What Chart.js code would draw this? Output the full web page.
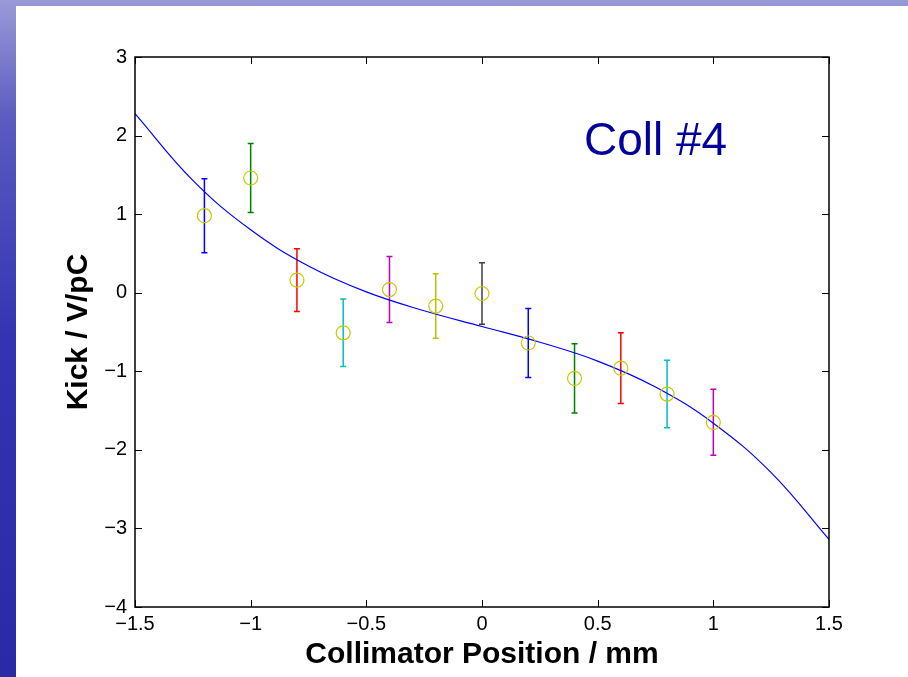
<!DOCTYPE html>
<html lang="en">
<head>
    <meta charset="UTF-8">
    <title>Coll #4</title>
    <script src="https://cdn.jsdelivr.net/npm/chart.js"></script>
    <style>
        html, body {
            margin: 0;
            padding: 0;
            width: 908px;
            height: 677px;
            overflow: hidden;
        }

        body {
            /* blue slide background that shows on the left and top edges */
            background: linear-gradient(180deg, #9a9ad8 0%, #5a5ac0 18%, #3434b2 50%, #2a2aa6 100%);
            font-family: "Liberation Sans", Arial, sans-serif;
        }

        #chartContainer {
            position: absolute;
            left: 16px;
            top: 6px;
            width: 892px;
            height: 671px;
            background: #ffffff;
        }
    </style>
</head>
<body>
    <div id="chartContainer">
        <canvas id="chart"></canvas>
    </div>

    <script>
        // measured kick vs collimator position
        const positions = [-1.2, -1.0, -0.8, -0.6, -0.4, -0.2, 0.0, 0.2, 0.4, 0.6, 0.8, 1.0];
        const kicks = [0.98, 1.46, 0.16, -0.51, 0.04, -0.17, -0.01, -0.64, -1.09, -0.96, -1.29, -1.65];
        const errors = [0.47, 0.44, 0.40, 0.43, 0.42, 0.41, 0.39, 0.44, 0.44, 0.45, 0.43, 0.42];
        const barColors = ['#0000ff', '#008000', '#ff0000', '#00bfbf', '#bf00bf', '#bfbf00',
                           '#404040', '#0000ff', '#008000', '#ff0000', '#00bfbf', '#bf00bf'];

        // fitted curve
        const fitX = [-1.5, -1.25, -1.0, -0.75, -0.5, -0.25, 0.0, 0.25, 0.5, 0.75, 1.0, 1.25, 1.5];
        const fitY = [2.28, 1.43, 0.80, 0.34, 0.01, -0.23, -0.43, -0.63, -0.87, -1.20, -1.66, -2.29, -3.14];

        const xTicks = [-1.5, -1.0, -0.5, 0, 0.5, 1.0, 1.5];
        const yTicks = [-4, -3, -2, -1, 0, 1, 2, 3];

        const FONT = '"Liberation Sans", Arial, sans-serif';

        // matlab style minus sign
        function fmt(v) {
            const s = String(Math.round(v * 10) / 10);
            return s.replace('-', '\u2212');
        }

        // error bars, drawn under the markers
        const errorBarPlugin = {
            id: 'errorBars',
            beforeDatasetsDraw(chart) {
                const ctx = chart.ctx;
                const xs = chart.scales.x;
                const ys = chart.scales.y;
                ctx.save();
                ctx.lineWidth = 1.5;
                positions.forEach((p, i) => {
                    const px = xs.getPixelForValue(p);
                    const top = ys.getPixelForValue(kicks[i] + errors[i]);
                    const bot = ys.getPixelForValue(kicks[i] - errors[i]);
                    ctx.strokeStyle = barColors[i];
                    ctx.beginPath();
                    ctx.moveTo(px, top);
                    ctx.lineTo(px, bot);
                    ctx.moveTo(px - 3, top);
                    ctx.lineTo(px + 3, top);
                    ctx.moveTo(px - 3, bot);
                    ctx.lineTo(px + 3, bot);
                    ctx.stroke();
                });
                ctx.restore();
            }
        };

        // box round the axes with inward ticks, plus the "Coll #4" note
        const boxPlugin = {
            id: 'box',
            afterDraw(chart) {
                const ctx = chart.ctx;
                const a = chart.chartArea;
                const xs = chart.scales.x;
                const ys = chart.scales.y;
                const tl = 7;
                ctx.save();
                ctx.strokeStyle = '#000';
                ctx.lineWidth = 1.5;
                ctx.strokeRect(a.left, a.top, a.right - a.left, a.bottom - a.top);
                ctx.lineWidth = 1;
                ctx.beginPath();
                xs.ticks.forEach(t => {
                    const px = Math.round(xs.getPixelForValue(t.value)) + 0.5;
                    ctx.moveTo(px, a.bottom);
                    ctx.lineTo(px, a.bottom - tl);
                    ctx.moveTo(px, a.top);
                    ctx.lineTo(px, a.top + tl);
                });
                ys.ticks.forEach(t => {
                    const py = Math.round(ys.getPixelForValue(t.value)) + 0.5;
                    ctx.moveTo(a.left, py);
                    ctx.lineTo(a.left + tl, py);
                    ctx.moveTo(a.right, py);
                    ctx.lineTo(a.right - tl, py);
                });
                ctx.stroke();

                ctx.fillStyle = '#00009c';
                ctx.font = '46px ' + FONT;
                ctx.textAlign = 'center';
                ctx.textBaseline = 'middle';
                ctx.fillText('Coll #4', xs.getPixelForValue(0.75), ys.getPixelForValue(1.92));
                ctx.restore();
            }
        };

        const ctx = document.getElementById('chart').getContext('2d');
        const chart = new Chart(ctx, {
            type: 'scatter',
            data: {
                datasets: [
                    {
                        label: 'Messung',
                        data: positions.map((p, i) => ({ x: p, y: kicks[i] })),
                        pointStyle: 'circle',
                        pointRadius: 7,
                        pointBorderWidth: 1.2,
                        pointBorderColor: '#c8c800',
                        pointBackgroundColor: 'rgba(0,0,0,0)',
                        showLine: false
                    },
                    {
                        label: 'Fit',
                        data: fitX.map((x, i) => ({ x: x, y: fitY[i] })),
                        showLine: true,
                        borderColor: '#0000ff',
                        borderWidth: 1.2,
                        pointRadius: 0,
                        tension: 0.4
                    }
                ]
            },
            options: {
                responsive: true,
                maintainAspectRatio: false,
                animation: false,
                layout: {
                    padding: { left: 0, top: 51, right: 79, bottom: 0 }
                },
                plugins: {
                    legend: { display: false },
                    tooltip: { enabled: false }
                },
                scales: {
                    x: {
                        type: 'linear',
                        min: -1.5,
                        max: 1.5,
                        afterBuildTicks: s => { s.ticks = xTicks.map(v => ({ value: v })); },
                        afterFit: s => { s.height = 70; },
                        grid: { display: false, drawTicks: false },
                        border: { display: false },
                        ticks: {
                            color: '#000',
                            padding: 5,
                            maxRotation: 0,
                            autoSkip: false,
                            font: { family: FONT, size: 20 },
                            callback: v => fmt(v)
                        },
                        title: {
                            display: true,
                            text: 'Collimator Position / mm',
                            color: '#000',
                            font: { family: FONT, size: 30, weight: 'bold' },
                            padding: { top: 0, bottom: 4 }
                        }
                    },
                    y: {
                        type: 'linear',
                        min: -4,
                        max: 3,
                        afterBuildTicks: s => { s.ticks = yTicks.map(v => ({ value: v })); },
                        afterFit: s => { s.width = 119; },
                        grid: { display: false, drawTicks: false },
                        border: { display: false },
                        ticks: {
                            color: '#000',
                            padding: 8,
                            autoSkip: false,
                            font: { family: FONT, size: 20 },
                            callback: v => fmt(v)
                        },
                        title: {
                            display: true,
                            text: 'Kick / V/pC',
                            color: '#000',
                            font: { family: FONT, size: 30, weight: 'bold' },
                            padding: { top: 45, bottom: 0 }
                        }
                    }
                }
            },
            plugins: [errorBarPlugin, boxPlugin]
        });
    </script>
</body>
</html>
